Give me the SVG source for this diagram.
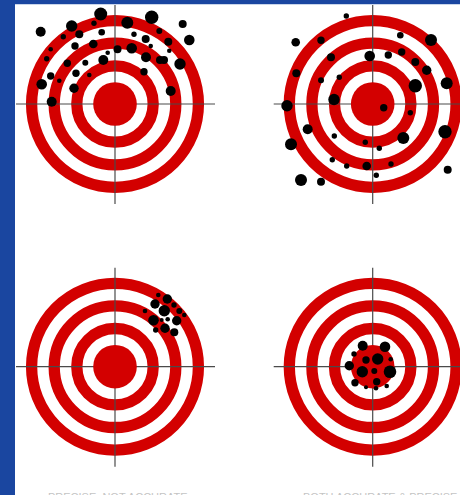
<svg xmlns="http://www.w3.org/2000/svg" width="460" height="495" viewBox="0 0 460 495">
<style>
.ring{fill:none;stroke:#d30000;stroke-width:11.3}
.disc{fill:#d30000}
.hair{stroke:#4a4a4a;stroke-width:1.2}
.hole{fill:#000}
.cap{font-family:"Liberation Sans",Arial,sans-serif;font-size:11px;fill:#c4c4c4}
</style>
<defs>
<g id="target">
<circle class="ring" r="83.4"/>
<circle class="ring" r="60.8"/>
<circle class="ring" r="38.2"/>
<line class="hair" x1="-99" y1="0" x2="100" y2="0"/>
<line class="hair" x1="0" y1="-99" x2="0" y2="100"/>
<circle class="disc" r="21.8"/>
</g>
</defs>
<rect width="460" height="495" fill="#fff"/>
<rect x="0" y="0" width="460" height="4" fill="#1a46a0"/>
<rect x="15" y="4" width="445" height="1" fill="#c9d5ea"/>
<rect x="0" y="0" width="15" height="495" fill="#1a46a0"/>

<g id="target-tl">
<use href="#target" x="115" y="104"/>
<g class="hole">
<circle cx="100.7" cy="14" r="6.5"/><circle cx="71.7" cy="26" r="5.7"/><circle cx="40.7" cy="31.7" r="5"/>
<circle cx="94" cy="23.3" r="2.7"/><circle cx="79.3" cy="34.3" r="4"/><circle cx="63.3" cy="36.7" r="2.7"/>
<circle cx="101.7" cy="32.3" r="3.3"/><circle cx="75" cy="46" r="3.7"/><circle cx="93.3" cy="44" r="4.3"/>
<circle cx="50.7" cy="49.3" r="2.3"/><circle cx="46.7" cy="58.7" r="2.7"/><circle cx="67.3" cy="63.3" r="3.7"/>
<circle cx="85.3" cy="62.7" r="3"/><circle cx="103.3" cy="60" r="5"/><circle cx="107.7" cy="52.7" r="2.3"/>
<circle cx="117.5" cy="49.3" r="4"/><circle cx="76" cy="73.3" r="3.7"/><circle cx="50.7" cy="76" r="3.7"/>
<circle cx="89.3" cy="75" r="2.3"/><circle cx="59.3" cy="80.7" r="2.3"/><circle cx="41.7" cy="84.3" r="5.3"/>
<circle cx="74" cy="88.3" r="4.7"/><circle cx="51.7" cy="101.7" r="5"/>
<circle cx="151.7" cy="17.3" r="6.7"/><circle cx="127.3" cy="22.7" r="6"/><circle cx="182.7" cy="24" r="4"/>
<circle cx="134" cy="34.3" r="2.7"/><circle cx="159.3" cy="31" r="3"/><circle cx="145.7" cy="39" r="4"/>
<circle cx="189.3" cy="40" r="5.3"/><circle cx="168.3" cy="41.7" r="4"/><circle cx="150.7" cy="46" r="2.3"/>
<circle cx="131.7" cy="48.3" r="5.3"/><circle cx="169.3" cy="50.7" r="2.3"/><circle cx="146" cy="57.3" r="5"/>
<circle cx="160" cy="60" r="4"/><circle cx="164" cy="60" r="4"/><circle cx="180" cy="64" r="5.7"/>
<circle cx="144" cy="71.7" r="3.7"/><circle cx="170.7" cy="91" r="5"/>
</g>
</g>

<g id="target-tr">
<use href="#target" x="372.7" y="104"/>
<g class="hole">
<circle cx="346.3" cy="16" r="2.7"/><circle cx="295.7" cy="42.3" r="4.3"/><circle cx="321" cy="40.3" r="3.7"/>
<circle cx="400.3" cy="35.3" r="3.3"/><circle cx="431" cy="40" r="6"/><circle cx="331" cy="57.3" r="4"/>
<circle cx="369.7" cy="56" r="5.3"/><circle cx="388.3" cy="55" r="3.7"/><circle cx="401.7" cy="52" r="3.7"/>
<circle cx="415.3" cy="62" r="4"/><circle cx="426.7" cy="70.3" r="4.7"/><circle cx="296.3" cy="73.3" r="4"/>
<circle cx="321" cy="80.3" r="3"/><circle cx="339.3" cy="77.3" r="2.7"/><circle cx="415.3" cy="85.7" r="6.7"/>
<circle cx="446.7" cy="83.3" r="6"/><circle cx="334" cy="99.5" r="5.7"/>
<circle cx="287" cy="105.7" r="5.7"/><circle cx="383.7" cy="107.7" r="3.7"/><circle cx="410.3" cy="112.7" r="2.7"/>
<circle cx="307.7" cy="129.3" r="5"/><circle cx="334.3" cy="136" r="2.7"/><circle cx="403.3" cy="138" r="6"/>
<circle cx="445" cy="131.7" r="6.7"/><circle cx="291" cy="144.3" r="6"/><circle cx="365.3" cy="142.3" r="2.7"/>
<circle cx="379.3" cy="148.3" r="2.7"/><circle cx="332.3" cy="159.7" r="2.7"/><circle cx="346.7" cy="166" r="2.7"/>
<circle cx="366.7" cy="166" r="4.3"/><circle cx="391" cy="164" r="2.7"/><circle cx="376.3" cy="175.3" r="2.7"/>
<circle cx="301" cy="180" r="6"/><circle cx="321" cy="181.7" r="4"/><circle cx="447.7" cy="169.7" r="4"/>
</g>
</g>

<g id="target-bl">
<use href="#target" x="115" y="366.7"/>
<g class="hole">
<circle cx="158.3" cy="295" r="2.3"/><circle cx="167.3" cy="299" r="4.7"/><circle cx="155" cy="304" r="4.7"/>
<circle cx="174" cy="305" r="2.7"/><circle cx="164.3" cy="310.7" r="5.7"/><circle cx="179.3" cy="311" r="3"/>
<circle cx="145" cy="311" r="2.3"/><circle cx="184.3" cy="315" r="2.3"/><circle cx="153.5" cy="320.3" r="5.3"/>
<circle cx="167.7" cy="319.3" r="2.3"/><circle cx="161.7" cy="320" r="2"/><circle cx="176.7" cy="320.7" r="4.7"/>
<circle cx="165" cy="328.3" r="4.7"/><circle cx="174.3" cy="332.3" r="4"/><circle cx="155.7" cy="330" r="2.7"/>
</g>
</g>

<g id="target-br">
<use href="#target" x="372.7" y="366.7"/>
<g class="hole">
<circle cx="362.7" cy="345.7" r="5"/><circle cx="385" cy="346.7" r="5.3"/><circle cx="354" cy="354" r="2.7"/>
<circle cx="366" cy="360" r="3.7"/><circle cx="377.7" cy="359" r="5.7"/><circle cx="390.7" cy="359.3" r="2.3"/>
<circle cx="349.3" cy="365.7" r="4.7"/><circle cx="362.3" cy="371.7" r="5.7"/><circle cx="374.3" cy="371" r="3"/>
<circle cx="390" cy="371.7" r="6.3"/><circle cx="355" cy="382.7" r="3.7"/><circle cx="376.7" cy="381.7" r="3.7"/>
<circle cx="366" cy="387.3" r="2"/><circle cx="376" cy="388.3" r="2.3"/><circle cx="386.7" cy="386" r="2.3"/>
</g>
</g>

<g id="captions">
<text class="cap" x="48" y="500.5">PRECISE, NOT ACCURATE</text>
<text class="cap" x="303" y="500.5">BOTH ACCURATE &amp; PRECISE</text>
</g>
</svg>
